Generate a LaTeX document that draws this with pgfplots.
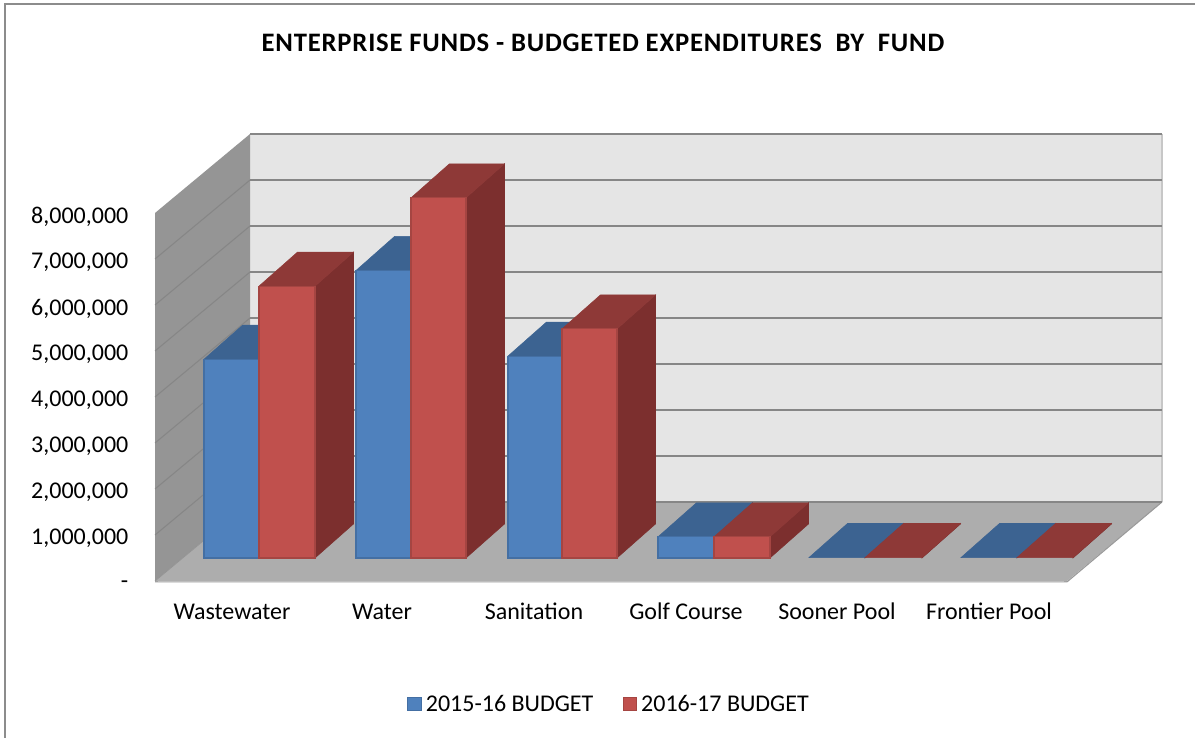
\documentclass[border=0pt]{standalone}
\usepackage{pgfplots}
\pgfplotsset{compat=1.18}
\usepackage{fontspec}
\setmainfont{Carlito}
\definecolor{bluefront}{HTML}{4F81BD}
\definecolor{bluetop}{HTML}{3C6391}
\definecolor{blueside}{HTML}{2F5078}
\definecolor{redfront}{HTML}{C0504D}
\definecolor{redtop}{HTML}{8E3937}
\definecolor{redside}{HTML}{7C2F2E}
\definecolor{wallback}{HTML}{E5E5E5}
\definecolor{wallside}{HTML}{959595}
\definecolor{floorc}{HTML}{ADADAD}
\definecolor{gridc}{HTML}{868686}
\definecolor{framec}{HTML}{8C8C8C}
% x in picture pixels, y in millions; 0.5 = floor offset of the bar row, depth 38.5 px / 0.74
\newcommand{\depthfaces}[5]{%
  \pgfmathsetmacro{\yt}{0.5+#3}%
  \pgfmathsetmacro{\ytb}{\yt+0.74}%
  \pgfmathsetmacro{\ybb}{0.5+0.74}%
  \pgfmathsetmacro{\xlb}{#1+38.5}%
  \pgfmathsetmacro{\xrb}{#2+38.5}%
  \addplot[forget plot,fill=#5,draw=#5,line width=0.4pt] coordinates {(#2,0.5) (\xrb,\ybb) (\xrb,\ytb) (#2,\yt)} -- cycle;
  \addplot[forget plot,fill=#4,draw=#4,line width=0.4pt] coordinates {(#1,\yt) (#2,\yt) (\xrb,\ytb) (\xlb,\ytb)} -- cycle;
}
\newcommand{\frontface}[5]{%
  \pgfmathsetmacro{\yt}{0.5+#3}%
  \addplot[#5,fill=#4,draw=#4!86!black,line width=0.8pt] coordinates {(#1,0.5) (#2,0.5) (#2,\yt) (#1,\yt)} -- cycle;
}
\begin{document}
\begin{tikzpicture}
\useasboundingbox (0,0) rectangle (896.25pt,553.5pt);
\begin{axis}[
  at={(116.25pt,117.75pt)}, anchor=south west,
  scale only axis, width=684pt, height=276pt,
  xmin=155, xmax=1067, ymin=0, ymax=8,
  clip=false,
  axis line style={draw=none},
  xtick={232,382,534,686,837,989},
  xticklabels={Wastewater,Water,Sanitation,Golf Course,Sooner Pool,Frontier Pool},
  ytick={0,1,2,3,4,5,6,7,8},
  yticklabels={-,{1,000,000},{2,000,000},{3,000,000},{4,000,000},{5,000,000},{6,000,000},{7,000,000},{8,000,000}},
  major x tick style={draw=none},
  major y tick style={draw=gridc!60,line width=0.6pt},
  major tick length=2.5pt,
  tick label style={font=\fontsize{18}{21}\selectfont},
  yticklabel style={xshift=-16.5pt,yshift=-2.7pt},
  xticklabel style={yshift=-13pt,text height=12pt,text depth=4pt},
  title={ENTERPRISE FUNDS - BUDGETED EXPENDITURES\ \ BY\ \ FUND},
  title style={at={(0.4912,1.4402)},anchor=center,font=\fontsize{20}{24}\selectfont\bfseries\addfontfeature{LetterSpace=3}},
  legend columns=2,
  legend style={at={(0.4982,-0.3345)},anchor=center,draw=none,fill=none,font=\fontsize{18}{21}\selectfont,
    /tikz/every even column/.append style={column sep=20pt}},
  legend image code/.code={\draw[#1] (0pt,-5pt) rectangle (10pt,5pt); \path[draw=none,fill=none] (0pt,0pt) rectangle (11.5pt,0.1pt);},
]
% picture frame
\addplot[forget plot,draw=framec,line width=1.5pt] coordinates {(5,-3.413) (5,12.543) (1195,12.543)};
% walls and floor
\addplot[forget plot,fill=wallback,draw=none] coordinates {(250,1.717) (1162,1.717) (1162,9.717) (250,9.717)} -- cycle;
\addplot[forget plot,fill=wallside,draw=none] coordinates {(155,0) (250,1.717) (250,9.717) (155,8)} -- cycle;
\addplot[forget plot,fill=floorc,draw=none] coordinates {(155,0) (1067,0) (1162,1.717) (250,1.717)} -- cycle;
\addplot[forget plot,draw=black!22,line width=0.8pt] coordinates {(1162,1.717) (1162,9.717)};
\addplot[forget plot,draw=black!40,line width=0.8pt] coordinates {(155,-0.02) (1067,-0.02) (1162,1.717)};
\addplot[forget plot,draw=black!42,line width=0.6pt] coordinates {(155,0) (250,1.717)};
% grid lines, side wall
\addplot[forget plot,draw=gridc,line width=0.8pt] coordinates {(155,1) (250,2.717)};
\addplot[forget plot,draw=gridc,line width=0.8pt] coordinates {(155,2) (250,3.717)};
\addplot[forget plot,draw=gridc,line width=0.8pt] coordinates {(155,3) (250,4.717)};
\addplot[forget plot,draw=gridc,line width=0.8pt] coordinates {(155,4) (250,5.717)};
\addplot[forget plot,draw=gridc,line width=0.8pt] coordinates {(155,5) (250,6.717)};
\addplot[forget plot,draw=gridc,line width=0.8pt] coordinates {(155,6) (250,7.717)};
\addplot[forget plot,draw=gridc,line width=0.8pt] coordinates {(155,7) (250,8.717)};
% grid lines, back wall
\addplot[forget plot,draw=gridc,line width=1.4pt] coordinates {(250,1.717) (1162,1.717)};
\addplot[forget plot,draw=gridc,line width=1.4pt] coordinates {(250,2.717) (1162,2.717)};
\addplot[forget plot,draw=gridc,line width=1.4pt] coordinates {(250,3.717) (1162,3.717)};
\addplot[forget plot,draw=gridc,line width=1.4pt] coordinates {(250,4.717) (1162,4.717)};
\addplot[forget plot,draw=gridc,line width=1.4pt] coordinates {(250,5.717) (1162,5.717)};
\addplot[forget plot,draw=gridc,line width=1.4pt] coordinates {(250,6.717) (1162,6.717)};
\addplot[forget plot,draw=gridc,line width=1.4pt] coordinates {(250,7.717) (1162,7.717)};
\addplot[forget plot,draw=gridc,line width=1.4pt] coordinates {(250,8.717) (1162,8.717)};
\addplot[forget plot,draw=gridc,line width=1.4pt] coordinates {(250,9.717) (1162,9.717)};
% bars: tops and sides
\depthfaces{204}{259}{4.32}{bluetop}{blueside}
\depthfaces{259}{315}{5.91}{redtop}{redside}
\depthfaces{356}{411}{6.25}{bluetop}{blueside}
\depthfaces{411}{466}{7.83}{redtop}{redside}
\depthfaces{508}{562}{4.39}{bluetop}{blueside}
\depthfaces{562}{617}{4.98}{redtop}{redside}
\depthfaces{658}{714}{0.46}{bluetop}{blueside}
\depthfaces{714}{770}{0.46}{redtop}{redside}
\depthfaces{809}{865}{0.01}{bluetop}{blueside}
\depthfaces{865}{922}{0.01}{redtop}{redside}
\depthfaces{961}{1017}{0.01}{bluetop}{blueside}
\depthfaces{1017}{1073}{0.01}{redtop}{redside}
% bars: fronts
\frontface{204}{259}{4.32}{bluefront}{}
\addlegendentry{2015-16 BUDGET}
\frontface{259}{315}{5.91}{redfront}{}
\addlegendentry{2016-17 BUDGET}
\frontface{356}{411}{6.25}{bluefront}{forget plot}
\frontface{411}{466}{7.83}{redfront}{forget plot}
\frontface{508}{562}{4.39}{bluefront}{forget plot}
\frontface{562}{617}{4.98}{redfront}{forget plot}
\frontface{658}{714}{0.46}{bluefront}{forget plot}
\frontface{714}{770}{0.46}{redfront}{forget plot}
\end{axis}
\end{tikzpicture}
\end{document}
